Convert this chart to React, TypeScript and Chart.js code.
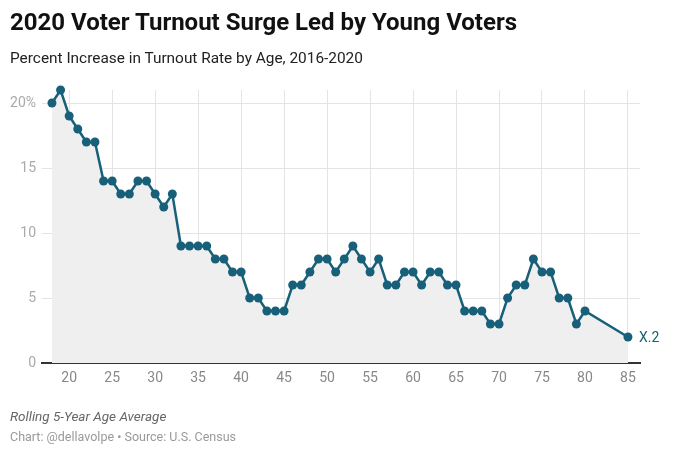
import React, { useEffect, useRef } from "react";
import { Chart, registerables } from "chart.js";

Chart.register(...registerables);

const ages = [18,19,20,21,22,23,24,25,26,27,28,29,30,31,32,33,34,35,36,37,38,39,40,41,42,43,44,45,46,47,48,49,50,51,52,53,54,55,56,57,58,59,60,61,62,63,64,65,66,67,68,69,70,71,72,73,74,75,76,77,78,79,80,85];
const increase = [20,21,19,18,17,17,14,14,13,13,14,14,13,12,13,9,9,9,9,8,8,7,7,5,5,4,4,4,6,6,7,8,8,7,8,9,8,7,8,6,6,7,7,6,7,7,6,6,4,4,4,3,3,5,6,6,8,7,7,5,5,3,4,2];
const xTicks = [20,25,30,35,40,45,50,55,60,65,70,75,80,85];
const yTicks = [0,5,10,15,20];
const lastLabel = "X.2";

const LINE = "#18607a";
const FONT = "Roboto, 'Noto Sans', sans-serif";

export default function App() {
  const ref = useRef<HTMLCanvasElement>(null);
  useEffect(() => {
    document.body.style.margin = "0";
    const labelPlugin = {
      id: "lastLabel",
      afterDatasetsDraw(chart: any) {
        const meta = chart.getDatasetMeta(0);
        const p = meta.data[meta.data.length - 1];
        const ctx = chart.ctx;
        ctx.save();
        ctx.font = `14px ${FONT}`;
        ctx.fillStyle = LINE;
        ctx.textAlign = "left";
        ctx.textBaseline = "middle";
        ctx.fillText(lastLabel, p.x + 11, p.y + 1);
        ctx.restore();
      },
    };
    const chart = new Chart(ref.current!, {
      type: "line",
      data: {
        datasets: [
          {
            data: ages.map((a, i) => ({ x: a, y: increase[i] })),
            borderColor: LINE,
            backgroundColor: "#efefef",
            fill: "origin",
            borderWidth: 2.5,
            pointRadius: 4.5,
            pointBackgroundColor: LINE,
            pointBorderColor: LINE,
            pointBorderWidth: 0,
            tension: 0,
            clip: false,
          },
        ],
      },
      options: {
        responsive: false,
        animation: false,
        events: [],
        layout: { padding: { left: 0, right: 40, top: 90, bottom: 0 } },
        plugins: { legend: { display: false }, tooltip: { enabled: false }, title: { display: false } },
        scales: {
          x: {
            type: "linear",
            min: 16.84,
            max: 86.4,
            afterBuildTicks: (s: any) => { s.ticks = xTicks.map((v) => ({ value: v })); },
            afterFit: (s: any) => { s.height = 98; },
            grid: { color: "#e4e4e4", drawTicks: false, lineWidth: 1 },
            border: { display: true, color: "#333", width: 2 },
            ticks: { color: "#888", font: { family: FONT, size: 14 }, padding: 7, maxRotation: 0 },
          },
          y: {
            min: 0,
            max: 21,
            afterBuildTicks: (s: any) => { s.ticks = yTicks.map((v) => ({ value: v })); },
            afterFit: (s: any) => { s.width = 42; },
            grid: { color: "#e4e4e4", drawTicks: false, lineWidth: 1 },
            border: { display: false },
            ticks: {
              color: "#aaa",
              font: { family: FONT, size: 14 },
              padding: 6,
              callback: (v: any) => (v === 20 ? "20%" : String(v)),
            },
          },
        },
      },
      plugins: [labelPlugin],
    });
    return () => chart.destroy();
  }, []);

  return (
    <div style={{ position: "relative", width: 680, height: 461, background: "#fff", fontFamily: FONT }}>
      <canvas ref={ref} width={680} height={461} style={{ position: "absolute", left: 0, top: 0 }} />
      <div style={{ position: "absolute", left: 10, top: 7, fontSize: 24, fontWeight: 700, color: "#111", whiteSpace: "nowrap", lineHeight: "30px" }}>
        2020 Voter Turnout Surge Led by Young Voters
      </div>
      <div style={{ position: "absolute", left: 10, top: 48, fontSize: 15.4, color: "#222", whiteSpace: "nowrap", lineHeight: "20px" }}>
        Percent Increase in Turnout Rate by Age, 2016-2020
      </div>
      <div style={{ position: "absolute", left: 10, top: 407, fontSize: 13.5, fontStyle: "italic", color: "#666", whiteSpace: "nowrap", lineHeight: "18px" }}>
        Rolling 5-Year Age Average
      </div>
      <div style={{ position: "absolute", left: 10, top: 429, fontSize: 12.5, color: "#999", whiteSpace: "nowrap", lineHeight: "16px" }}>
        Chart: @dellavolpe • Source: U.S. Census
      </div>
    </div>
  );
}
